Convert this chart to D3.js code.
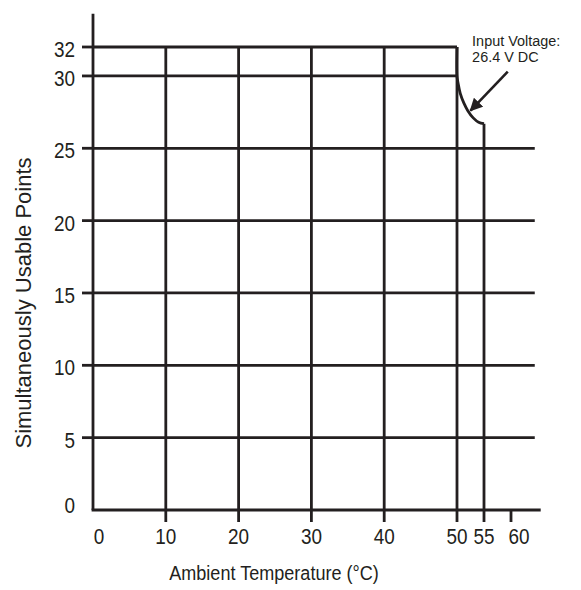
<!DOCTYPE html>
<html lang="en">
<head>
<meta charset="utf-8">
<title>Simultaneously Usable Points vs Ambient Temperature</title>
<script src="https://cdnjs.cloudflare.com/ajax/libs/d3/7.8.5/d3.min.js"></script>
<style>
  body { margin: 0; background: #fff; }
  svg text { font-family: "Liberation Sans", Arial, Helvetica, sans-serif; fill: #231f20; }
</style>
</head>
<body>
<svg id="chart" width="581" height="590"></svg>
<script>
// ticks
var xTicks = [10, 20, 30, 40, 50, 55, 60];
var xTickLabels = ["0", "10", "20", "30", "40", "50", "55", "60"];
var yTicks = [5, 10, 15, 20, 25, 30, 32];
var yTickLabels = ["0", "5", "10", "15", "20", "25", "30", "32"];

// derating curve, 26.4 V DC
var curveTemps  = [50, 50, 50.2, 50.6, 51.3, 52, 53, 54, 55];
var curvePoints = [32, 30, 29.5, 28.8, 28.1, 27.6, 27.1, 26.8, 26.7];

var ink = "#231f20";
var lw = 2.8;
var squeeze = 0.86;   // the figure text is a bit narrow

var svg = d3.select("#chart");

// x axis is compressed after 50
var x = d3.scaleLinear().domain([0, 50, 60]).range([93, 457, 511]);
var y = d3.scaleLinear().domain([0, 32]).range([510, 47]);

var g = svg.append("g")
  .attr("stroke", ink)
  .attr("stroke-width", lw)
  .attr("fill", "none");

// horizontal grid
g.selectAll("line.h")
  .data(yTicks)
  .enter().append("line")
  .attr("x1", x(0))
  .attr("x2", d => d >= 30 ? x(50) : x(64.4))
  .attr("y1", d => y(d))
  .attr("y2", d => y(d));

// vertical grid
g.selectAll("line.v")
  .data(xTicks.filter(d => d <= 55))
  .enter().append("line")
  .attr("x1", d => x(d))
  .attr("x2", d => x(d))
  .attr("y1", y(0))
  .attr("y2", d => d == 55 ? y(curvePoints[curvePoints.length - 1]) : y(32));

// axes
g.append("line").attr("x1", x(0)).attr("x2", x(0)).attr("y1", y(0)).attr("y2", y(34.3));
g.append("line").attr("x1", x(0) - lw / 2).attr("x2", x(65.5)).attr("y1", y(0)).attr("y2", y(0));

// tick marks
g.selectAll("line.xt")
  .data(xTicks)
  .enter().append("line")
  .attr("x1", d => x(d)).attr("x2", d => x(d))
  .attr("y1", y(0)).attr("y2", y(0) + 12);
g.selectAll("line.yt")
  .data(yTicks)
  .enter().append("line")
  .attr("x1", x(0) - 11).attr("x2", x(0))
  .attr("y1", d => y(d)).attr("y2", d => y(d));

// curve
var line = d3.line()
  .x(d => x(d[0]))
  .y(d => y(d[1]))
  .curve(d3.curveCatmullRom.alpha(0.5));
g.append("path")
  .datum(curveTemps.map((t, i) => [t, curvePoints[i]]))
  .attr("d", line)
  .attr("stroke-linejoin", "round");

// arrow
svg.append("defs").append("marker")
  .attr("id", "head")
  .attr("viewBox", "0 0 10 10")
  .attr("refX", 9).attr("refY", 5)
  .attr("markerWidth", 5).attr("markerHeight", 5)
  .attr("markerUnits", "strokeWidth")
  .attr("orient", "auto")
  .append("path")
  .attr("d", "M0,0 L10,5 L0,10 Z")
  .attr("fill", ink);

g.append("line")
  .attr("x1", x(59.4)).attr("y1", y(30.3))
  .attr("x2", x(52.5)).attr("y2", y(27.6))
  .attr("stroke-width", 2.6)
  .attr("marker-end", "url(#head)");

// text helper: squeezed horizontally
function label(px, py, str, size, anchor) {
  return svg.append("text")
    .attr("transform", "translate(" + px + "," + py + ") scale(" + squeeze + ",1)")
    .attr("text-anchor", anchor)
    .attr("font-size", size)
    .text(str);
}

// x tick labels
var xNudge = { "0": 6, "60": 8 };
[0].concat(xTicks).forEach(function(d, i) {
  label(x(d) + (xNudge[d] || 0), y(0) + 34, xTickLabels[i], 22, "middle");
});

// y tick labels
var yNudge = { "0": -7 };
[0].concat(yTicks).forEach(function(d, i) {
  label(x(0) - 18, y(d) + 10 + (yNudge[d] || 0), yTickLabels[i], 22, "end");
});

// axis titles
label(274, 580, "Ambient Temperature (\u00b0C)", 21, "middle");
svg.append("text")
  .attr("transform", "translate(31,303) rotate(-90)")
  .attr("text-anchor", "middle")
  .attr("font-size", 22)
  .text("Simultaneously Usable Points");

// annotation, two lines
["Input Voltage:", "26.4 V DC"].forEach(function(s, i) {
  svg.append("text")
    .attr("transform", "translate(" + x(52.8) + "," + (y(32.1) + i * 16) + ") scale(0.93,1)")
    .attr("font-size", 15.5)
    .text(s);
});
</script>
</body>
</html>
